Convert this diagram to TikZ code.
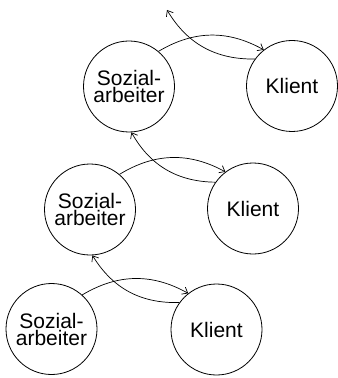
\documentclass[tikz,border=0pt]{standalone}
\usepackage{fontspec}
\setmainfont{Liberation Sans}
\usetikzlibrary{arrows.meta}
\begin{document}
\begin{tikzpicture}[scale=0.35146]
\tikzstyle{every node}+=[inner sep=0pt]
\tikzstyle{person}=[draw=black, line width=0.8pt, circle, minimum size=91pt, align=center, font=\fontsize{21pt}{17pt}\selectfont]
\tikzstyle{link}=[black, line width=0.7pt, -{Straight Barb[length=5pt,width=8pt]}, bend left=30]
\useasboundingbox (0,0) rectangle (33.8,-37.8);
\node [person] (S1) at (5.15,-32.9) {Sozial-\\arbeiter};
\node [person] (K1) at (21.65,-32.95) {Klient};
\node [person] (S2) at (9.0,-20.95) {Sozial-\\arbeiter};
\node [person] (K2) at (25.3,-20.85) {Klient};
\node [person] (S3) at (12.9,-8.65) {Sozial-\\arbeiter};
\node [person] (K3) at (29.2,-8.6) {Klient};
\coordinate (free) at (16.7,-1.0);
\draw [link] (S1.48) to (K1.128);
\draw [link] (K1.144) to (S2.-87);
\draw [link] (S2.50) to (K2.127);
\draw [link] (K2.145) to (S3.-87);
\draw [link] (S3.50) to (K3.128);
\draw [link] (K3.144) to (free);
\end{tikzpicture}
\end{document}
